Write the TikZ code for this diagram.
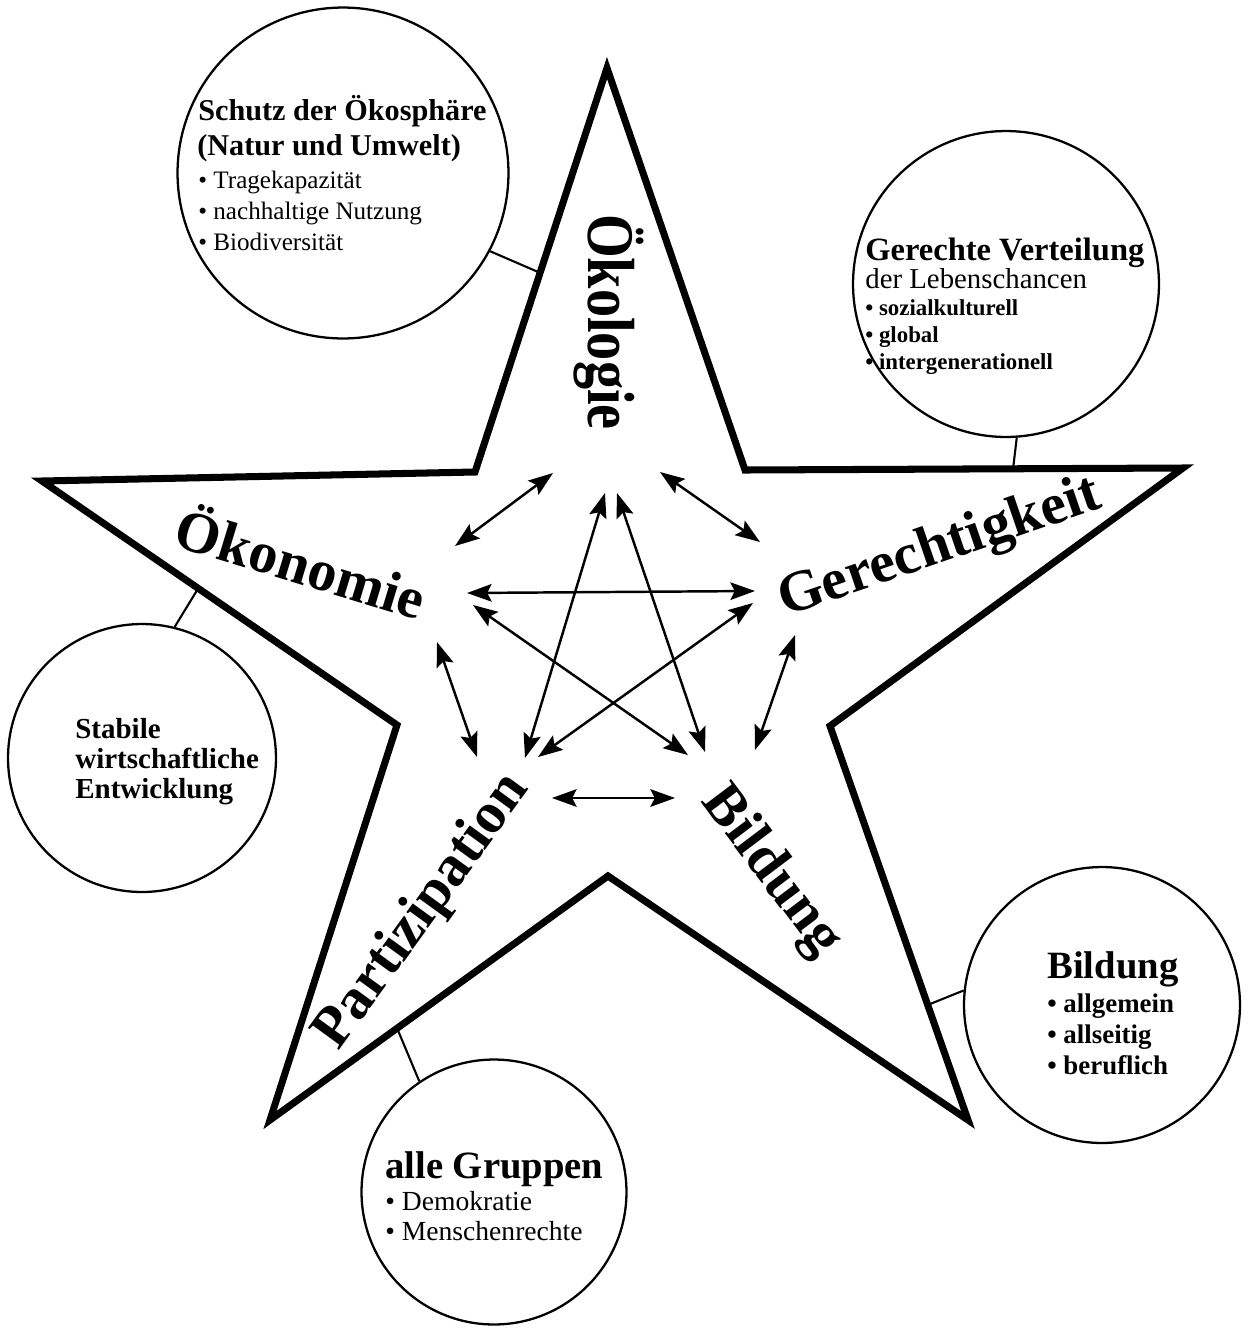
\documentclass[tikz,border=0pt]{standalone}
\usepackage{fontspec}
\setmainfont{Liberation Serif}
\usetikzlibrary{arrows.meta,calc}
\tikzset{
    pillar/.style = {font=\fontsize{33}{33}\selectfont\bfseries, inner sep=0pt},
    ring/.style = {draw, circle, line width=1.3pt, inner sep=0pt},
    head/.style = {anchor=base west, inner sep=0pt},
    item/.style = {anchor=base west, inner sep=0pt},
    link/.style = {draw, line width=1.4pt, {Stealth[length=14pt,width=10pt,inset=2.5pt]}-{Stealth[length=14pt,width=10pt,inset=2.5pt]}},
    stem/.style = {draw, line width=1.2pt},
    rim/.style = {draw, line width=4pt, line join=miter}
}

\begin{document}
\begin{tikzpicture}[x=0.02cm, y=-0.02cm]
    \useasboundingbox (0,0) rectangle (1248,1333);
    \coordinate (top) at (607,68);
    \coordinate (itr) at (745,470);
    \coordinate (rt) at (1183,468);
    \coordinate (irb) at (830,726);
    \coordinate (brt) at (968,1120);
    \coordinate (ibot) at (608,876);
    \coordinate (blt) at (270,1120);
    \coordinate (ilb) at (397,725);
    \coordinate (lft) at (42,481);
    \coordinate (itl) at (475,472);
    \draw[rim] (top) -- (itr) -- (rt) -- (irb) -- (brt) -- (ibot) -- (blt) -- (ilb) -- (lft) -- (itl) -- cycle;
    \coordinate (k1) at ($(top)!0.507!(itl)$);
    \coordinate (k2) at ($(itr)!0.612!(rt)$);
    \coordinate (k3) at ($(lft)!0.44!(ilb)$);
    \coordinate (k4) at ($(irb)!0.708!(brt)$);
    \coordinate (k5) at ($(ibot)!0.624!(blt)$);

    \node[pillar, rotate=-90] (olog) at (609,322) {\scalebox{0.97}[1.15]{Ökologie}};
    \node[pillar, rotate=-17] (onom) at (302,560) {Ökonomie};
    \node[pillar, rotate=19] (gere) at (940,549) {Gerechtigkeit};
    \node[pillar, rotate=54] (part) at (423,912) {Partizipation};
    \node[pillar, rotate=-53] (bild) at (771,872) {Bildung};

    \foreach \n/\x/\y in {olog-onom/553/473, olog-gere/660/472, olog-part/605/493, olog-bild/617/493,
        onom-olog/455/546, onom-gere/467/593, onom-bild/473/605, onom-part/437/642,
        gere-olog/760/542, gere-onom/755/591, gere-part/753/603, gere-bild/795/635,
        part-olog/525/758, part-gere/538/757, part-onom/477/757, part-bild/552/798,
        bild-olog/705/752, bild-onom/688/755, bild-gere/755/750, bild-part/675/798}
        \coordinate (\n) at (\x,\y);
    \foreach \a/\b in {olog/onom, olog/gere, olog/part, olog/bild, onom/gere,
        onom/part, onom/bild, gere/part, gere/bild, part/bild}
        \draw[link] (\a-\b) -- (\b-\a);

    \node[ring, minimum size=6.62cm] (schutz) at (343,173) {};
    \node[head, font=\fontsize{17.2}{20}\selectfont\bfseries] (schutz-h1) at (198,120) {Schutz der Ökosphäre};
    \node[head, font=\fontsize{17.2}{20}\selectfont\bfseries] (schutz-h2) at (197,155) {(Natur und Umwelt)};
    \foreach \t [count=\i] in {Tragekapazität, nachhaltige Nutzung, Biodiversität}
        \node[item, font=\fontsize{14.3}{17}\selectfont] (schutz-\i) at (198,157+31*\i) {• \t};

    \node[ring, minimum size=6.12cm] (verteil) at (1006,284) {};
    \node[head, font=\fontsize{18.5}{22}\selectfont\bfseries] (verteil-h1) at (865,260) {Gerechte Verteilung};
    \node[head, font=\fontsize{16.4}{20}\selectfont] (verteil-h2) at (865,288) {der Lebenschancen};
    \foreach \t [count=\i] in {sozialkulturell, global, intergenerationell}
        \node[item, font=\fontsize{13}{16}\selectfont\bfseries] (verteil-\i) at (865,288+27*\i) {• \t};

    \node[ring, minimum size=5.36cm] (stabil) at (142,758) {};
    \foreach \t [count=\i] in {Stabile, wirtschaftliche, Entwicklung}
        \node[head, font=\fontsize{16.5}{20}\selectfont\bfseries] (stabil-\i) at (75,708+30*\i) {\t};

    \node[ring, minimum size=5.52cm] (bildkreis) at (1102,1005) {};
    \node[head, font=\fontsize{22}{26}\selectfont\bfseries] (bildkreis-h) at (1047,978) {Bildung};
    \foreach \t [count=\i] in {allgemein, allseitig, beruflich}
        \node[item, font=\fontsize{15.3}{18}\selectfont\bfseries] (bildkreis-\i) at (1047,981+31*\i) {• \t};

    \node[ring, minimum size=5.3cm] (gruppen) at (494,1192) {};
    \node[head, font=\fontsize{22}{26}\selectfont\bfseries] (gruppen-h) at (385,1178) {alle Gruppen};
    \foreach \t [count=\i] in {Demokratie, Menschenrechte}
        \node[item, font=\fontsize{15.7}{18}\selectfont] (gruppen-\i) at (385,1180+30*\i) {• \t};

    \draw[stem] (schutz.-28) -- (k1);
    \draw[stem] (verteil.-86) -- (k2);
    \draw[stem] (stabil.76) -- (k3);
    \draw[stem] (bildkreis.174) -- (k4);
    \draw[stem] (gruppen.124) -- (k5);
\end{tikzpicture}
\end{document}
